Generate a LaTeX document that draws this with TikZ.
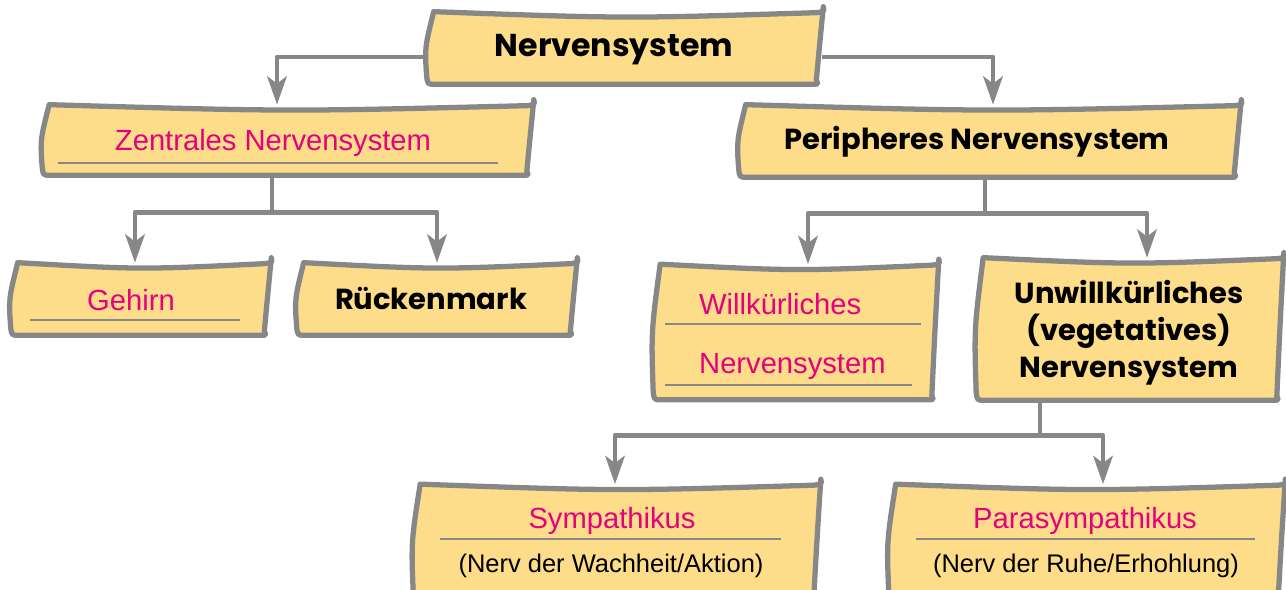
\documentclass[tikz,border=0pt]{standalone}
\usepackage{fontspec}
\setmainfont{Liberation Sans}
\newfontfamily\comicfont{Poppins}
\usepackage{xcolor}
\usetikzlibrary{arrows.meta, positioning, calc}

\definecolor{paperfill}{HTML}{FDDC8A}
\definecolor{paperedge}{HTML}{878787}
\definecolor{nervpink}{HTML}{E6007E}

\tikzset{
  paperline/.style={draw=paperedge, fill=paperfill, line width=3pt, line join=round, line cap=round},
  box/.style={inner sep=0pt},
  link/.style={draw=paperedge, line width=2.8pt, line join=round},
  arrowlink/.style={link, -{Stealth[length=16pt, width=11pt, inset=4pt]}},
  title/.style={font=\comicfont\bfseries\fontsize{18}{20}\selectfont},
  heading/.style={font=\comicfont\bfseries\fontsize{16.5}{21}\selectfont, align=center},
  pinktext/.style={text=nervpink, font=\fontsize{16.6}{20}\selectfont},
  note/.style={font=\fontsize{14.5}{17}\selectfont},
  rule/.style={draw=paperedge, line width=0.8pt},
}

% hand drawn sheet around an (empty) box node
\newcommand{\sketchbox}[1]{%
  \draw[paperline]
    ($(#1.north west)+(6,0)$)
      .. controls ($(#1.north)+(0,7)$) .. ($(#1.north east)+(-6,1)$)
      .. controls ($(#1.north east)+(2,0)$) .. ($(#1.north east)+(1,-5)$)
      .. controls ($(#1.east)+(-3,0)$) .. ($(#1.south east)+(-6,-4)$)
      .. controls ($(#1.south east)+(-4,0)$) .. ($(#1.south east)+(-10,0)$)
      -- ($(#1.south west)+(8,0)$)
      .. controls ($(#1.south west)+(0,0)$) .. ($(#1.south west)+(-1,-8)$)
      .. controls ($(#1.west)+(-3,0)$) .. cycle;
}

\begin{document}
\begin{tikzpicture}[x=0.02cm, y=-0.02cm]
    \useasboundingbox (0,0) rectangle (1286,589);

    % Boxes
    \node[box, minimum width=7.88cm, minimum height=1.44cm] (ns) at (625,48) {};
    \node[box, minimum width=9.78cm, minimum height=1.40cm] (zns) at (288,140) {};
    \node[box, minimum width=10cm, minimum height=1.44cm] (pns) at (990,141) {};
    \node[box, minimum width=5.16cm, minimum height=1.44cm] (geh) at (141,299) {};
    \node[box, minimum width=5.56cm, minimum height=1.44cm] (rm) at (437,299) {};
    \node[box, minimum width=5.66cm, minimum height=2.7cm] (wns) at (796,332) {};
    \node[box, minimum width=6.1cm, minimum height=2.84cm] (uns) at (1130,329) {};
    \node[box, minimum width=8.1cm, minimum height=2.3cm] (sym) at (617,542) {};
    \node[box, minimum width=7.88cm, minimum height=2.3cm] (para) at (1087,542) {};

    \foreach \b in {ns,zns,pns,geh,rm,wns,uns,sym,para} {\sketchbox{\b}}

    % Texts
    \node[title] (nsT) at (614,50) {Nervensystem};
    \node[pinktext] (znsT) at (273,143) {Zentrales Nervensystem};
    \draw[rule] (58,163) -- (498,163);
    \node[heading] (pnsT) at (977,142) {Peripheres Nervensystem};
    \node[pinktext] (gehT) at (131,300) {Gehirn};
    \draw[rule] (30,320) -- (240,320);
    \node[heading] (rmT) at (431,298) {Rückenmark};
    \node[pinktext, anchor=west] (wnsT1) at (693,304) {Willkürliches};
    \draw[rule] (665,324) -- (921,324);
    \node[pinktext, anchor=west] (wnsT2) at (693,366) {Nervensystem};
    \draw[rule] (665,385) -- (912,385);
    \node[heading] (unsT) at (1129,333) {Unwillkürliches\\(vegetatives)\\Nervensystem};
    \node[pinktext] (symT) at (612,521) {Sympathikus};
    \draw[rule] (440,539) -- (781,539);
    \node[note] (symN) at (611,566) {(Nerv der Wachheit/Aktion)};
    \node[pinktext] (paraT) at (1085,521) {Parasympathikus};
    \draw[rule] (916,539) -- (1255,539);
    \node[note] (paraN) at (1086,566) {(Nerv der Ruhe/Erhohlung)};

    % Connectors
    \draw[arrowlink] ($(ns.west)+(0,9)$) -| ($(zns.north)+(-11,0)$);
    \draw[arrowlink] ($(ns.east)+(0,9)$) -| ($(pns.north)+(3,0)$);

    \coordinate (zj) at ($(zns.south)+(-16,37)$);
    \draw[link] ($(zns.south)+(-16,0)$) -- (zj);
    \draw[arrowlink] (zj) -| ($(geh.north)+(-6,0)$);
    \draw[arrowlink] (zj) -| (rm.north);

    \coordinate (pj) at ($(pns.south)+(-5,36)$);
    \draw[link] ($(pns.south)+(-5,0)$) -- (pj);
    \draw[arrowlink] (pj) -| ($(wns.north)+(12,0)$);
    \draw[arrowlink] (pj) -| ($(uns.north)+(17,0)$);

    \coordinate (uj) at ($(uns.south)+(-90,35)$);
    \draw[link] ($(uns.south)+(-90,0)$) -- (uj);
    \draw[arrowlink] (uj) -| ($(sym.north)+(-2,0)$);
    \draw[arrowlink] (uj) -| ($(para.north)+(16,0)$);

\end{tikzpicture}
\end{document}
